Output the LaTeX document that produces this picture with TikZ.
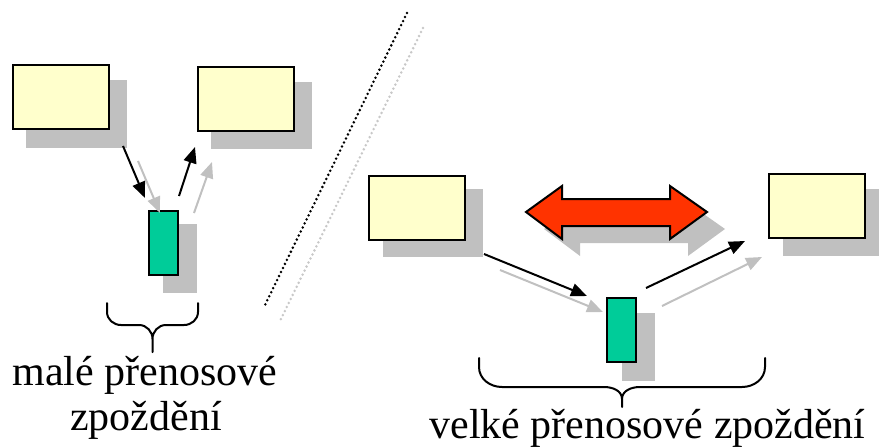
\documentclass[tikz,border=0pt]{standalone}
\usepackage{fontspec}
\newfontfamily\tnrfont{Liberation Serif}
\newfontfamily\tnrfontb{LiberationSerif}[Extension=.ttf, UprightFont=*-Regular]
\usetikzlibrary{arrows.meta}
\definecolor{boxyellow}{HTML}{FFFFCC}
\definecolor{boxgreen}{HTML}{00CC99}
\definecolor{arrred}{HTML}{FF3300}
\definecolor{shadegray}{HTML}{C0C0C0}
\definecolor{lightdots}{HTML}{C8C8C8}
\tikzset{
  ybox/.style={draw=black, line width=2pt, fill=boxyellow, minimum width=96pt, minimum height=64pt, inner sep=0pt},
  gbox/.style={draw=black, line width=2pt, fill=boxgreen, minimum width=29pt, minimum height=64pt, inner sep=0pt},
  shadowbox/.style={fill=shadegray},
  conn/.style={line width=2pt, -{Triangle[length=16pt,width=13pt]}},
  blackconn/.style={conn, draw=black},
  grayconn/.style={conn, draw=shadegray, fill=shadegray},
  bracepath/.style={line width=2pt, line join=round, line cap=round},
  sepblack/.style={line width=2.8pt, draw=black, line cap=round, dash pattern=on 0pt off 4.5pt},
  sepgray/.style={line width=2.8pt, draw=lightdots, line cap=round, dash pattern=on 0pt off 4.5pt},
  lbl/.style={inner sep=0pt}
}
\begin{document}
\begin{tikzpicture}[x=1pt,y=-1pt]
\useasboundingbox (0,0) rectangle (879,447);
% shadows
\fill[shadowbox] (26,80) rectangle (127,148);
\fill[shadowbox] (211,82) rectangle (312,149);
\fill[shadowbox] (163,224) rectangle (197,293);
\fill[shadowbox] (383,189) rectangle (483,257);
\fill[shadowbox] (783,189) rectangle (879,256);
\fill[shadowbox] (622,313) rectangle (655,381);
\fill[shadowbox] (544,229) -- (580,203) -- (580,216) -- (688,216) -- (688,203) -- (725,229) -- (688,256) -- (688,243) -- (580,243) -- (580,256) -- cycle;
% boxes
\node[ybox] (A) at (61,97) {};
\node[ybox] (B) at (246,99) {};
\node[gbox] (G1) at (163.5,243) {};
\node[ybox] (C) at (417,208) {};
\node[ybox] (D) at (817,206) {};
\node[gbox] (G2) at (621.5,330) {};
% red double arrow
\draw[line width=2pt, line join=miter, fill=arrred] (526,212) -- (562,186) -- (562,199) -- (670,199) -- (670,186) -- (707,212) -- (670,239) -- (670,226) -- (562,226) -- (562,239) -- cycle;
% connector end points
\coordinate (k1s) at (123,146); \coordinate (k1e) at (145,198);
\coordinate (g1s) at (138,161); \coordinate (g1e) at (160,213);
\coordinate (k2s) at (179,196); \coordinate (k2e) at (195,147);
\coordinate (g2s) at (194,213); \coordinate (g2e) at (212,162);
\coordinate (k3s) at (484,254); \coordinate (k3e) at (587,296);
\coordinate (g3s) at (500,270); \coordinate (g3e) at (603,312);
\coordinate (k4s) at (646,288); \coordinate (k4e) at (745,241);
\coordinate (g4s) at (662,306); \coordinate (g4e) at (762,257);
\draw[grayconn] (g1s) -- (g1e);
\draw[grayconn] (g2s) -- (g2e);
\draw[grayconn] (g3s) -- (g3e);
\draw[grayconn] (g4s) -- (g4e);
\draw[blackconn] (k1s) -- (k1e);
\draw[blackconn] (k2s) -- (k2e);
\draw[blackconn] (k3s) -- (k3e);
\draw[blackconn] (k4s) -- (k4e);
% separator
\draw[sepblack] (407,13) -- (264,307);
\draw[sepgray] (423,28) -- (279,323);
% braces
\draw[bracepath] (107,303) -- (107,312) to[out=-90,in=180] (121,325) -- (139,325) to[out=0,in=90] (152.5,339) -- (152.5,352)
  -- (152.5,339) to[out=90,in=180] (166,325) -- (184,325) to[out=0,in=-90] (198,312) -- (198,303);
\draw[bracepath] (479,358) -- (479,367) to[out=-90,in=180] (502,387) -- (604,387) to[out=0,in=90] (622,399) -- (622,407)
  -- (622,399) to[out=90,in=180] (640,387) -- (742,387) to[out=0,in=-90] (765,367) -- (765,358);
% labels
\node[lbl, anchor=base, font=\tnrfontb\fontsize{42pt}{45pt}\selectfont] (t1) at (145,385) {malé přenosové};
\node[lbl, anchor=base, font=\tnrfontb\fontsize{42pt}{45pt}\selectfont] (t2) at (146,430) {zpoždění};
\node[lbl, anchor=base, font=\tnrfont\fontsize{42pt}{45pt}\selectfont] (t3) at (647.5,438) {velké přenosové zpoždění};
\end{tikzpicture}
\end{document}
